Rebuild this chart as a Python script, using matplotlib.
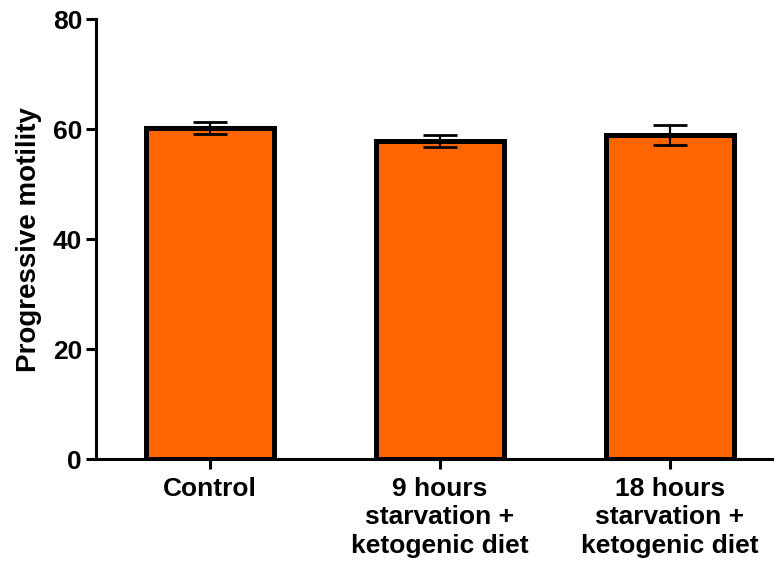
import matplotlib.pyplot as plt

plt.rcParams['font.family'] = ['Liberation Sans', 'DejaVu Sans']
plt.rcParams['font.weight'] = 'bold'

groups = ["Control", "9 hours\nstarvation +\nketogenic diet", "18 hours\nstarvation +\nketogenic diet"]
motility = [60.2, 57.8, 58.9]
sem = [1.1, 1.1, 1.8]

fig = plt.figure(figsize=(7.74, 5.64), dpi=100)
ax = fig.add_axes([0.124, 0.186, 0.876, 0.780])

x = list(range(len(groups)))
ax.bar(x, motility, width=0.56, color='#FF6600', edgecolor='black', linewidth=3.6, zorder=2)
ax.errorbar(x, motility, yerr=sem, fmt='none', ecolor='black', elinewidth=1.6,
            capsize=12, capthick=2.0, zorder=3)

ax.set_xlim(-0.496, 2.452)
ax.set_ylim(0, 80)
ax.set_yticks([0, 20, 40, 60, 80])
ax.set_xticks(x)
ax.set_xticklabels(groups, fontsize=19, fontweight='bold', linespacing=1.22)
ax.tick_params(axis='y', labelsize=19, width=2.2, length=7, pad=3)
ax.tick_params(axis='x', width=2.2, length=7, pad=6)
for lbl in ax.get_yticklabels():
    lbl.set_fontweight('bold')

ax.set_ylabel("Progressive motility", fontsize=20, fontweight='bold', labelpad=8)

for side in ['top', 'right']:
    ax.spines[side].set_visible(False)
for side in ['left', 'bottom']:
    ax.spines[side].set_linewidth(2.2)

fig.savefig("out.png", dpi=100)
